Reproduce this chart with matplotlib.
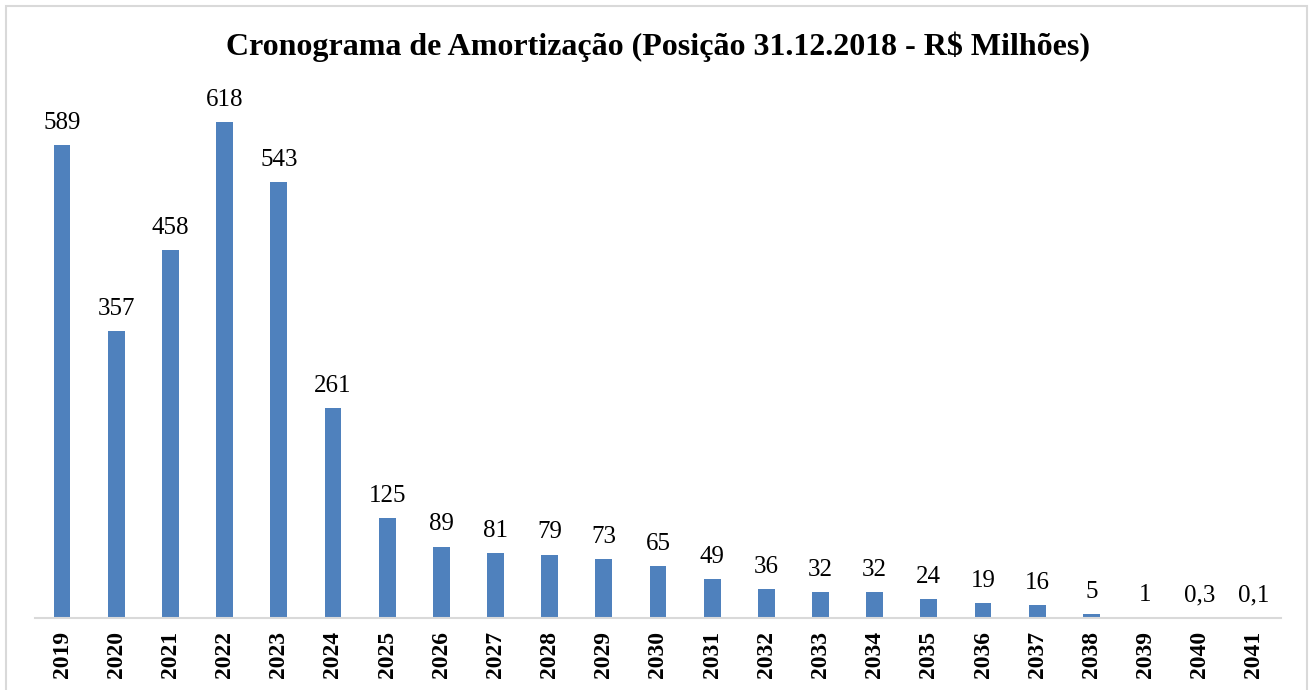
import matplotlib
matplotlib.use('Agg')
import matplotlib.pyplot as plt
from matplotlib.patches import Rectangle

# Data
years = [str(y) for y in range(2019, 2042)]
values = [589, 357, 458, 618, 543, 261, 125, 89, 81, 79, 73, 65, 49,
          36, 32, 32, 24, 19, 16, 5, 1, 0.3, 0.1]
value_labels = ['589', '357', '458', '618', '543', '261', '125', '89', '81',
                '79', '73', '65', '49', '36', '32', '32', '24', '19', '16',
                '5', '1', '0,3', '0,1']

plt.rcParams['font.family'] = ['Liberation Serif', 'DejaVu Serif']

W, H = 1309, 690
fig = plt.figure(figsize=(W / 100, H / 100), dpi=100)
ax = fig.add_axes([35 / W, (H - 618) / H, (1281 - 35) / W, (618 - 56) / H])

x = range(len(years))
bars = ax.bar(x, values, width=0.31, color='#4F81BD')

for bar, lab in zip(bars, value_labels):
    ax.annotate(lab, (bar.get_x() + bar.get_width() / 2, bar.get_height()),
                xytext=(0, 8), textcoords='offset points',
                ha='center', va='bottom', fontsize=18)

ax.set_xlim(-0.5, len(years) - 0.5)
ax.set_ylim(0, 700)
ax.set_xticks(list(x))
ax.set_xticklabels(years, rotation=90, fontsize=17, fontweight='bold')
ax.tick_params(axis='x', length=0, pad=9)
ax.set_yticks([])
for side in ['top', 'left', 'right']:
    ax.spines[side].set_visible(False)
ax.spines['bottom'].set_color('#D9D9D9')
ax.spines['bottom'].set_linewidth(1.5)

fig.text(658 / W, 1 - 47 / H,
         'Cronograma de Amortização (Posição 31.12.2018 - R$ Milhões)',
         ha='center', va='center', fontsize=23, fontweight='bold')

# outer chart border
fig.patches.append(Rectangle((6 / W, -0.05), (1307 - 6) / W, 1 - 6 / H + 0.05,
                             transform=fig.transFigure, fill=False,
                             edgecolor='#D9D9D9', linewidth=1.5))

fig.savefig('out.png', dpi=100)
